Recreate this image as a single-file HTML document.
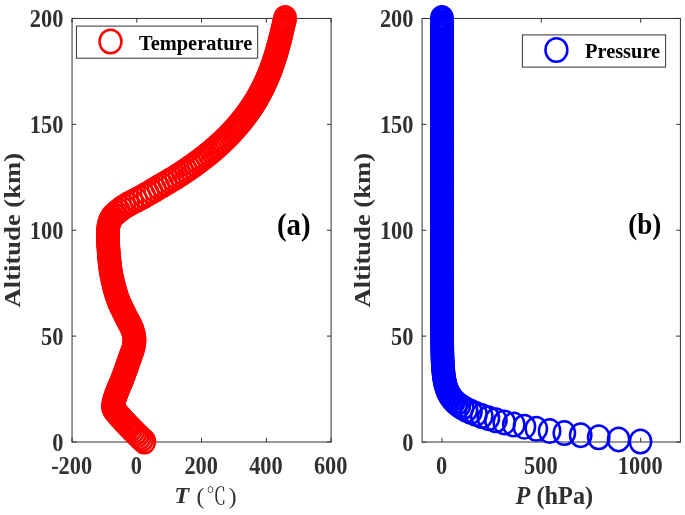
<!DOCTYPE html>
<html lang="en"><head><meta charset="utf-8"><title>Temperature and Pressure vs Altitude</title>
<style>html,body{margin:0;padding:0;background:#fff}svg{display:block}</style></head>
<body>
<svg width="685" height="515" viewBox="0 0 685 515">
<rect width="685" height="515" fill="#fff"/>
<rect x="72.05" y="18.45" width="259.05" height="423.55" fill="none" stroke="#303030" stroke-width="1"/>
<path d="M72.05 442.00h4.2M331.1 442.00h-4.2M72.05 336.11h4.2M331.1 336.11h-4.2M72.05 230.22h4.2M331.1 230.22h-4.2M72.05 124.34h4.2M331.1 124.34h-4.2M72.05 18.45h4.2M331.1 18.45h-4.2M72.05 442.0v-4.2M72.05 18.45v4.2M136.81 442.0v-4.2M136.81 18.45v4.2M201.57 442.0v-4.2M201.57 18.45v4.2M266.34 442.0v-4.2M266.34 18.45v4.2M331.10 442.0v-4.2M331.10 18.45v4.2" stroke="#303030" stroke-width="1" fill="none"/>
<rect x="422.07" y="18.45" width="258.33" height="423.55" fill="none" stroke="#303030" stroke-width="1"/>
<path d="M422.07 442.00h4.2M680.4 442.00h-4.2M422.07 336.11h4.2M680.4 336.11h-4.2M422.07 230.22h4.2M680.4 230.22h-4.2M422.07 124.34h4.2M680.4 124.34h-4.2M422.07 18.45h4.2M680.4 18.45h-4.2M441.94 442.0v-4.2M441.94 18.45v4.2M541.30 442.0v-4.2M541.30 18.45v4.2M640.66 442.0v-4.2M640.66 18.45v4.2" stroke="#303030" stroke-width="1" fill="none"/>
<g fill="none" stroke="#ff0000" stroke-width="2.5">
<ellipse cx="144.32" cy="441.50" rx="10.65" ry="11.75"/>
<ellipse cx="142.07" cy="439.38" rx="10.65" ry="11.75"/>
<ellipse cx="139.86" cy="437.26" rx="10.65" ry="11.75"/>
<ellipse cx="137.67" cy="435.15" rx="10.65" ry="11.75"/>
<ellipse cx="135.52" cy="433.03" rx="10.65" ry="11.75"/>
<ellipse cx="133.40" cy="430.91" rx="10.65" ry="11.75"/>
<ellipse cx="131.31" cy="428.79" rx="10.65" ry="11.75"/>
<ellipse cx="129.26" cy="426.68" rx="10.65" ry="11.75"/>
<ellipse cx="127.23" cy="424.56" rx="10.65" ry="11.75"/>
<ellipse cx="125.22" cy="422.44" rx="10.65" ry="11.75"/>
<ellipse cx="123.24" cy="420.32" rx="10.65" ry="11.75"/>
<ellipse cx="121.29" cy="418.20" rx="10.65" ry="11.75"/>
<ellipse cx="119.39" cy="416.09" rx="10.65" ry="11.75"/>
<ellipse cx="117.53" cy="413.97" rx="10.65" ry="11.75"/>
<ellipse cx="115.76" cy="411.85" rx="10.65" ry="11.75"/>
<ellipse cx="114.15" cy="409.73" rx="10.65" ry="11.75"/>
<ellipse cx="113.01" cy="407.62" rx="10.65" ry="11.75"/>
<ellipse cx="113.08" cy="405.50" rx="10.65" ry="11.75"/>
<ellipse cx="113.43" cy="403.38" rx="10.65" ry="11.75"/>
<ellipse cx="113.90" cy="401.26" rx="10.65" ry="11.75"/>
<ellipse cx="114.47" cy="399.14" rx="10.65" ry="11.75"/>
<ellipse cx="115.14" cy="397.03" rx="10.65" ry="11.75"/>
<ellipse cx="115.90" cy="394.91" rx="10.65" ry="11.75"/>
<ellipse cx="116.72" cy="392.79" rx="10.65" ry="11.75"/>
<ellipse cx="117.55" cy="390.67" rx="10.65" ry="11.75"/>
<ellipse cx="118.40" cy="388.56" rx="10.65" ry="11.75"/>
<ellipse cx="119.30" cy="386.44" rx="10.65" ry="11.75"/>
<ellipse cx="120.22" cy="384.32" rx="10.65" ry="11.75"/>
<ellipse cx="121.12" cy="382.20" rx="10.65" ry="11.75"/>
<ellipse cx="121.99" cy="380.09" rx="10.65" ry="11.75"/>
<ellipse cx="122.81" cy="377.97" rx="10.65" ry="11.75"/>
<ellipse cx="123.60" cy="375.85" rx="10.65" ry="11.75"/>
<ellipse cx="124.38" cy="373.73" rx="10.65" ry="11.75"/>
<ellipse cx="125.13" cy="371.61" rx="10.65" ry="11.75"/>
<ellipse cx="125.88" cy="369.50" rx="10.65" ry="11.75"/>
<ellipse cx="126.62" cy="367.38" rx="10.65" ry="11.75"/>
<ellipse cx="127.35" cy="365.26" rx="10.65" ry="11.75"/>
<ellipse cx="128.07" cy="363.14" rx="10.65" ry="11.75"/>
<ellipse cx="128.79" cy="361.03" rx="10.65" ry="11.75"/>
<ellipse cx="129.52" cy="358.91" rx="10.65" ry="11.75"/>
<ellipse cx="130.30" cy="356.79" rx="10.65" ry="11.75"/>
<ellipse cx="131.12" cy="354.67" rx="10.65" ry="11.75"/>
<ellipse cx="131.91" cy="352.55" rx="10.65" ry="11.75"/>
<ellipse cx="132.65" cy="350.44" rx="10.65" ry="11.75"/>
<ellipse cx="133.27" cy="348.32" rx="10.65" ry="11.75"/>
<ellipse cx="133.74" cy="346.20" rx="10.65" ry="11.75"/>
<ellipse cx="134.11" cy="344.08" rx="10.65" ry="11.75"/>
<ellipse cx="134.42" cy="341.97" rx="10.65" ry="11.75"/>
<ellipse cx="134.55" cy="339.85" rx="10.65" ry="11.75"/>
<ellipse cx="134.39" cy="337.73" rx="10.65" ry="11.75"/>
<ellipse cx="134.03" cy="335.61" rx="10.65" ry="11.75"/>
<ellipse cx="133.57" cy="333.49" rx="10.65" ry="11.75"/>
<ellipse cx="133.02" cy="331.38" rx="10.65" ry="11.75"/>
<ellipse cx="132.26" cy="329.26" rx="10.65" ry="11.75"/>
<ellipse cx="131.36" cy="327.14" rx="10.65" ry="11.75"/>
<ellipse cx="130.33" cy="325.02" rx="10.65" ry="11.75"/>
<ellipse cx="129.23" cy="322.91" rx="10.65" ry="11.75"/>
<ellipse cx="128.09" cy="320.79" rx="10.65" ry="11.75"/>
<ellipse cx="126.96" cy="318.67" rx="10.65" ry="11.75"/>
<ellipse cx="125.85" cy="316.55" rx="10.65" ry="11.75"/>
<ellipse cx="124.83" cy="314.44" rx="10.65" ry="11.75"/>
<ellipse cx="123.83" cy="312.32" rx="10.65" ry="11.75"/>
<ellipse cx="122.80" cy="310.20" rx="10.65" ry="11.75"/>
<ellipse cx="121.76" cy="308.08" rx="10.65" ry="11.75"/>
<ellipse cx="120.74" cy="305.96" rx="10.65" ry="11.75"/>
<ellipse cx="119.76" cy="303.85" rx="10.65" ry="11.75"/>
<ellipse cx="118.85" cy="301.73" rx="10.65" ry="11.75"/>
<ellipse cx="118.03" cy="299.61" rx="10.65" ry="11.75"/>
<ellipse cx="117.29" cy="297.49" rx="10.65" ry="11.75"/>
<ellipse cx="116.60" cy="295.38" rx="10.65" ry="11.75"/>
<ellipse cx="115.95" cy="293.26" rx="10.65" ry="11.75"/>
<ellipse cx="115.33" cy="291.14" rx="10.65" ry="11.75"/>
<ellipse cx="114.74" cy="289.02" rx="10.65" ry="11.75"/>
<ellipse cx="114.19" cy="286.90" rx="10.65" ry="11.75"/>
<ellipse cx="113.66" cy="284.79" rx="10.65" ry="11.75"/>
<ellipse cx="113.15" cy="282.67" rx="10.65" ry="11.75"/>
<ellipse cx="112.65" cy="280.55" rx="10.65" ry="11.75"/>
<ellipse cx="112.16" cy="278.43" rx="10.65" ry="11.75"/>
<ellipse cx="111.71" cy="276.32" rx="10.65" ry="11.75"/>
<ellipse cx="111.29" cy="274.20" rx="10.65" ry="11.75"/>
<ellipse cx="110.91" cy="272.08" rx="10.65" ry="11.75"/>
<ellipse cx="110.58" cy="269.96" rx="10.65" ry="11.75"/>
<ellipse cx="110.30" cy="267.84" rx="10.65" ry="11.75"/>
<ellipse cx="110.03" cy="265.73" rx="10.65" ry="11.75"/>
<ellipse cx="109.78" cy="263.61" rx="10.65" ry="11.75"/>
<ellipse cx="109.55" cy="261.49" rx="10.65" ry="11.75"/>
<ellipse cx="109.34" cy="259.37" rx="10.65" ry="11.75"/>
<ellipse cx="109.15" cy="257.26" rx="10.65" ry="11.75"/>
<ellipse cx="108.97" cy="255.14" rx="10.65" ry="11.75"/>
<ellipse cx="108.80" cy="253.02" rx="10.65" ry="11.75"/>
<ellipse cx="108.63" cy="250.90" rx="10.65" ry="11.75"/>
<ellipse cx="108.45" cy="248.78" rx="10.65" ry="11.75"/>
<ellipse cx="108.29" cy="246.67" rx="10.65" ry="11.75"/>
<ellipse cx="108.15" cy="244.55" rx="10.65" ry="11.75"/>
<ellipse cx="108.05" cy="242.43" rx="10.65" ry="11.75"/>
<ellipse cx="108.00" cy="240.31" rx="10.65" ry="11.75"/>
<ellipse cx="107.99" cy="238.20" rx="10.65" ry="11.75"/>
<ellipse cx="108.00" cy="236.08" rx="10.65" ry="11.75"/>
<ellipse cx="108.02" cy="233.96" rx="10.65" ry="11.75"/>
<ellipse cx="108.05" cy="231.84" rx="10.65" ry="11.75"/>
<ellipse cx="108.09" cy="229.72" rx="10.65" ry="11.75"/>
<ellipse cx="108.27" cy="227.61" rx="10.65" ry="11.75"/>
<ellipse cx="108.64" cy="225.49" rx="10.65" ry="11.75"/>
<ellipse cx="109.13" cy="223.37" rx="10.65" ry="11.75"/>
<ellipse cx="109.79" cy="221.25" rx="10.65" ry="11.75"/>
<ellipse cx="110.76" cy="219.14" rx="10.65" ry="11.75"/>
<ellipse cx="112.07" cy="217.02" rx="10.65" ry="11.75"/>
<ellipse cx="113.92" cy="214.90" rx="10.65" ry="11.75"/>
<ellipse cx="116.19" cy="212.78" rx="10.65" ry="11.75"/>
<ellipse cx="118.78" cy="210.67" rx="10.65" ry="11.75"/>
<ellipse cx="121.58" cy="208.55" rx="10.65" ry="11.75"/>
<ellipse cx="124.54" cy="206.43" rx="10.65" ry="11.75"/>
<ellipse cx="128.08" cy="204.31" rx="10.65" ry="11.75"/>
<ellipse cx="132.09" cy="202.19" rx="10.65" ry="11.75"/>
<ellipse cx="136.29" cy="200.08" rx="10.65" ry="11.75"/>
<ellipse cx="140.39" cy="197.96" rx="10.65" ry="11.75"/>
<ellipse cx="144.17" cy="195.84" rx="10.65" ry="11.75"/>
<ellipse cx="147.83" cy="193.72" rx="10.65" ry="11.75"/>
<ellipse cx="151.43" cy="191.61" rx="10.65" ry="11.75"/>
<ellipse cx="154.99" cy="189.49" rx="10.65" ry="11.75"/>
<ellipse cx="158.54" cy="187.37" rx="10.65" ry="11.75"/>
<ellipse cx="162.10" cy="185.25" rx="10.65" ry="11.75"/>
<ellipse cx="165.70" cy="183.13" rx="10.65" ry="11.75"/>
<ellipse cx="169.29" cy="181.02" rx="10.65" ry="11.75"/>
<ellipse cx="172.83" cy="178.90" rx="10.65" ry="11.75"/>
<ellipse cx="176.25" cy="176.78" rx="10.65" ry="11.75"/>
<ellipse cx="179.57" cy="174.66" rx="10.65" ry="11.75"/>
<ellipse cx="182.83" cy="172.55" rx="10.65" ry="11.75"/>
<ellipse cx="186.01" cy="170.43" rx="10.65" ry="11.75"/>
<ellipse cx="189.12" cy="168.31" rx="10.65" ry="11.75"/>
<ellipse cx="192.15" cy="166.19" rx="10.65" ry="11.75"/>
<ellipse cx="195.12" cy="164.07" rx="10.65" ry="11.75"/>
<ellipse cx="198.02" cy="161.96" rx="10.65" ry="11.75"/>
<ellipse cx="200.85" cy="159.84" rx="10.65" ry="11.75"/>
<ellipse cx="203.61" cy="157.72" rx="10.65" ry="11.75"/>
<ellipse cx="206.30" cy="155.60" rx="10.65" ry="11.75"/>
<ellipse cx="208.92" cy="153.49" rx="10.65" ry="11.75"/>
<ellipse cx="211.48" cy="151.37" rx="10.65" ry="11.75"/>
<ellipse cx="213.98" cy="149.25" rx="10.65" ry="11.75"/>
<ellipse cx="216.41" cy="147.13" rx="10.65" ry="11.75"/>
<ellipse cx="218.77" cy="145.01" rx="10.65" ry="11.75"/>
<ellipse cx="221.07" cy="142.90" rx="10.65" ry="11.75"/>
<ellipse cx="223.32" cy="140.78" rx="10.65" ry="11.75"/>
<ellipse cx="225.51" cy="138.66" rx="10.65" ry="11.75"/>
<ellipse cx="227.64" cy="136.54" rx="10.65" ry="11.75"/>
<ellipse cx="229.71" cy="134.43" rx="10.65" ry="11.75"/>
<ellipse cx="231.73" cy="132.31" rx="10.65" ry="11.75"/>
<ellipse cx="233.70" cy="130.19" rx="10.65" ry="11.75"/>
<ellipse cx="235.61" cy="128.07" rx="10.65" ry="11.75"/>
<ellipse cx="237.47" cy="125.96" rx="10.65" ry="11.75"/>
<ellipse cx="239.27" cy="123.84" rx="10.65" ry="11.75"/>
<ellipse cx="241.01" cy="121.72" rx="10.65" ry="11.75"/>
<ellipse cx="242.71" cy="119.60" rx="10.65" ry="11.75"/>
<ellipse cx="244.37" cy="117.48" rx="10.65" ry="11.75"/>
<ellipse cx="245.97" cy="115.37" rx="10.65" ry="11.75"/>
<ellipse cx="247.52" cy="113.25" rx="10.65" ry="11.75"/>
<ellipse cx="249.03" cy="111.13" rx="10.65" ry="11.75"/>
<ellipse cx="250.50" cy="109.01" rx="10.65" ry="11.75"/>
<ellipse cx="251.93" cy="106.90" rx="10.65" ry="11.75"/>
<ellipse cx="253.31" cy="104.78" rx="10.65" ry="11.75"/>
<ellipse cx="254.65" cy="102.66" rx="10.65" ry="11.75"/>
<ellipse cx="255.94" cy="100.54" rx="10.65" ry="11.75"/>
<ellipse cx="257.20" cy="98.42" rx="10.65" ry="11.75"/>
<ellipse cx="258.42" cy="96.31" rx="10.65" ry="11.75"/>
<ellipse cx="259.60" cy="94.19" rx="10.65" ry="11.75"/>
<ellipse cx="260.74" cy="92.07" rx="10.65" ry="11.75"/>
<ellipse cx="261.84" cy="89.95" rx="10.65" ry="11.75"/>
<ellipse cx="262.91" cy="87.84" rx="10.65" ry="11.75"/>
<ellipse cx="263.94" cy="85.72" rx="10.65" ry="11.75"/>
<ellipse cx="264.95" cy="83.60" rx="10.65" ry="11.75"/>
<ellipse cx="265.92" cy="81.48" rx="10.65" ry="11.75"/>
<ellipse cx="266.85" cy="79.36" rx="10.65" ry="11.75"/>
<ellipse cx="267.76" cy="77.25" rx="10.65" ry="11.75"/>
<ellipse cx="268.64" cy="75.13" rx="10.65" ry="11.75"/>
<ellipse cx="269.50" cy="73.01" rx="10.65" ry="11.75"/>
<ellipse cx="270.32" cy="70.89" rx="10.65" ry="11.75"/>
<ellipse cx="271.12" cy="68.78" rx="10.65" ry="11.75"/>
<ellipse cx="271.89" cy="66.66" rx="10.65" ry="11.75"/>
<ellipse cx="272.64" cy="64.54" rx="10.65" ry="11.75"/>
<ellipse cx="273.37" cy="62.42" rx="10.65" ry="11.75"/>
<ellipse cx="274.08" cy="60.31" rx="10.65" ry="11.75"/>
<ellipse cx="274.76" cy="58.19" rx="10.65" ry="11.75"/>
<ellipse cx="275.43" cy="56.07" rx="10.65" ry="11.75"/>
<ellipse cx="276.07" cy="53.95" rx="10.65" ry="11.75"/>
<ellipse cx="276.70" cy="51.83" rx="10.65" ry="11.75"/>
<ellipse cx="277.31" cy="49.72" rx="10.65" ry="11.75"/>
<ellipse cx="277.91" cy="47.60" rx="10.65" ry="11.75"/>
<ellipse cx="278.50" cy="45.48" rx="10.65" ry="11.75"/>
<ellipse cx="279.06" cy="43.36" rx="10.65" ry="11.75"/>
<ellipse cx="279.62" cy="41.25" rx="10.65" ry="11.75"/>
<ellipse cx="280.16" cy="39.13" rx="10.65" ry="11.75"/>
<ellipse cx="280.70" cy="37.01" rx="10.65" ry="11.75"/>
<ellipse cx="281.21" cy="34.89" rx="10.65" ry="11.75"/>
<ellipse cx="281.72" cy="32.77" rx="10.65" ry="11.75"/>
<ellipse cx="282.22" cy="30.66" rx="10.65" ry="11.75"/>
<ellipse cx="282.72" cy="28.54" rx="10.65" ry="11.75"/>
<ellipse cx="283.22" cy="26.42" rx="10.65" ry="11.75"/>
<ellipse cx="283.71" cy="24.30" rx="10.65" ry="11.75"/>
<ellipse cx="284.19" cy="22.19" rx="10.65" ry="11.75"/>
<ellipse cx="284.68" cy="20.07" rx="10.65" ry="11.75"/>
<ellipse cx="285.15" cy="17.95" rx="10.65" ry="11.75"/>
</g>
<g fill="none" stroke="#0000ff" stroke-width="2.5">
<ellipse cx="640.46" cy="441.50" rx="10.65" ry="11.75"/>
<ellipse cx="618.60" cy="439.38" rx="10.65" ry="11.75"/>
<ellipse cx="598.72" cy="437.26" rx="10.65" ry="11.75"/>
<ellipse cx="580.67" cy="435.15" rx="10.65" ry="11.75"/>
<ellipse cx="564.34" cy="433.03" rx="10.65" ry="11.75"/>
<ellipse cx="549.60" cy="430.91" rx="10.65" ry="11.75"/>
<ellipse cx="536.33" cy="428.79" rx="10.65" ry="11.75"/>
<ellipse cx="524.43" cy="426.68" rx="10.65" ry="11.75"/>
<ellipse cx="513.79" cy="424.56" rx="10.65" ry="11.75"/>
<ellipse cx="504.29" cy="422.44" rx="10.65" ry="11.75"/>
<ellipse cx="495.86" cy="420.32" rx="10.65" ry="11.75"/>
<ellipse cx="488.38" cy="418.20" rx="10.65" ry="11.75"/>
<ellipse cx="481.79" cy="416.09" rx="10.65" ry="11.75"/>
<ellipse cx="475.99" cy="413.97" rx="10.65" ry="11.75"/>
<ellipse cx="470.92" cy="411.85" rx="10.65" ry="11.75"/>
<ellipse cx="466.50" cy="409.73" rx="10.65" ry="11.75"/>
<ellipse cx="462.68" cy="407.62" rx="10.65" ry="11.75"/>
<ellipse cx="459.43" cy="405.50" rx="10.65" ry="11.75"/>
<ellipse cx="456.70" cy="403.38" rx="10.65" ry="11.75"/>
<ellipse cx="454.42" cy="401.26" rx="10.65" ry="11.75"/>
<ellipse cx="452.50" cy="399.14" rx="10.65" ry="11.75"/>
<ellipse cx="450.89" cy="397.03" rx="10.65" ry="11.75"/>
<ellipse cx="449.54" cy="394.91" rx="10.65" ry="11.75"/>
<ellipse cx="448.40" cy="392.79" rx="10.65" ry="11.75"/>
<ellipse cx="447.45" cy="390.67" rx="10.65" ry="11.75"/>
<ellipse cx="446.65" cy="388.56" rx="10.65" ry="11.75"/>
<ellipse cx="445.97" cy="386.44" rx="10.65" ry="11.75"/>
<ellipse cx="445.39" cy="384.32" rx="10.65" ry="11.75"/>
<ellipse cx="444.91" cy="382.20" rx="10.65" ry="11.75"/>
<ellipse cx="444.50" cy="380.09" rx="10.65" ry="11.75"/>
<ellipse cx="444.14" cy="377.97" rx="10.65" ry="11.75"/>
<ellipse cx="443.84" cy="375.85" rx="10.65" ry="11.75"/>
<ellipse cx="443.59" cy="373.73" rx="10.65" ry="11.75"/>
<ellipse cx="443.37" cy="371.61" rx="10.65" ry="11.75"/>
<ellipse cx="443.18" cy="369.50" rx="10.65" ry="11.75"/>
<ellipse cx="443.02" cy="367.38" rx="10.65" ry="11.75"/>
<ellipse cx="442.88" cy="365.26" rx="10.65" ry="11.75"/>
<ellipse cx="442.76" cy="363.14" rx="10.65" ry="11.75"/>
<ellipse cx="442.65" cy="361.03" rx="10.65" ry="11.75"/>
<ellipse cx="442.56" cy="358.91" rx="10.65" ry="11.75"/>
<ellipse cx="442.48" cy="356.79" rx="10.65" ry="11.75"/>
<ellipse cx="442.42" cy="354.67" rx="10.65" ry="11.75"/>
<ellipse cx="442.36" cy="352.55" rx="10.65" ry="11.75"/>
<ellipse cx="442.31" cy="350.44" rx="10.65" ry="11.75"/>
<ellipse cx="442.26" cy="348.32" rx="10.65" ry="11.75"/>
<ellipse cx="442.22" cy="346.20" rx="10.65" ry="11.75"/>
<ellipse cx="442.19" cy="344.08" rx="10.65" ry="11.75"/>
<ellipse cx="442.16" cy="341.97" rx="10.65" ry="11.75"/>
<ellipse cx="442.14" cy="339.85" rx="10.65" ry="11.75"/>
<ellipse cx="442.11" cy="337.73" rx="10.65" ry="11.75"/>
<ellipse cx="442.09" cy="335.61" rx="10.65" ry="11.75"/>
<ellipse cx="442.07" cy="333.49" rx="10.65" ry="11.75"/>
<ellipse cx="442.06" cy="331.38" rx="10.65" ry="11.75"/>
<ellipse cx="442.04" cy="329.26" rx="10.65" ry="11.75"/>
<ellipse cx="442.03" cy="327.14" rx="10.65" ry="11.75"/>
<ellipse cx="442.02" cy="325.02" rx="10.65" ry="11.75"/>
<ellipse cx="442.01" cy="322.91" rx="10.65" ry="11.75"/>
<ellipse cx="442.00" cy="320.79" rx="10.65" ry="11.75"/>
<ellipse cx="441.99" cy="318.67" rx="10.65" ry="11.75"/>
<ellipse cx="441.99" cy="316.55" rx="10.65" ry="11.75"/>
<ellipse cx="441.98" cy="314.44" rx="10.65" ry="11.75"/>
<ellipse cx="441.98" cy="312.32" rx="10.65" ry="11.75"/>
<ellipse cx="441.97" cy="310.20" rx="10.65" ry="11.75"/>
<ellipse cx="441.97" cy="308.08" rx="10.65" ry="11.75"/>
<ellipse cx="441.96" cy="305.96" rx="10.65" ry="11.75"/>
<ellipse cx="441.96" cy="303.85" rx="10.65" ry="11.75"/>
<ellipse cx="441.96" cy="301.73" rx="10.65" ry="11.75"/>
<ellipse cx="441.96" cy="299.61" rx="10.65" ry="11.75"/>
<ellipse cx="441.95" cy="297.49" rx="10.65" ry="11.75"/>
<ellipse cx="441.95" cy="295.38" rx="10.65" ry="11.75"/>
<ellipse cx="441.95" cy="293.26" rx="10.65" ry="11.75"/>
<ellipse cx="441.95" cy="291.14" rx="10.65" ry="11.75"/>
<ellipse cx="441.95" cy="289.02" rx="10.65" ry="11.75"/>
<ellipse cx="441.95" cy="286.90" rx="10.65" ry="11.75"/>
<ellipse cx="441.95" cy="284.79" rx="10.65" ry="11.75"/>
<ellipse cx="441.95" cy="282.67" rx="10.65" ry="11.75"/>
<ellipse cx="441.94" cy="280.55" rx="10.65" ry="11.75"/>
<ellipse cx="441.94" cy="278.43" rx="10.65" ry="11.75"/>
<ellipse cx="441.94" cy="276.32" rx="10.65" ry="11.75"/>
<ellipse cx="441.94" cy="274.20" rx="10.65" ry="11.75"/>
<ellipse cx="441.94" cy="272.08" rx="10.65" ry="11.75"/>
<ellipse cx="441.94" cy="269.96" rx="10.65" ry="11.75"/>
<ellipse cx="441.94" cy="267.84" rx="10.65" ry="11.75"/>
<ellipse cx="441.94" cy="265.73" rx="10.65" ry="11.75"/>
<ellipse cx="441.94" cy="263.61" rx="10.65" ry="11.75"/>
<ellipse cx="441.94" cy="261.49" rx="10.65" ry="11.75"/>
<ellipse cx="441.94" cy="259.37" rx="10.65" ry="11.75"/>
<ellipse cx="441.94" cy="257.26" rx="10.65" ry="11.75"/>
<ellipse cx="441.94" cy="255.14" rx="10.65" ry="11.75"/>
<ellipse cx="441.94" cy="253.02" rx="10.65" ry="11.75"/>
<ellipse cx="441.94" cy="250.90" rx="10.65" ry="11.75"/>
<ellipse cx="441.94" cy="248.78" rx="10.65" ry="11.75"/>
<ellipse cx="441.94" cy="246.67" rx="10.65" ry="11.75"/>
<ellipse cx="441.94" cy="244.55" rx="10.65" ry="11.75"/>
<ellipse cx="441.94" cy="242.43" rx="10.65" ry="11.75"/>
<ellipse cx="441.94" cy="240.31" rx="10.65" ry="11.75"/>
<ellipse cx="441.94" cy="238.20" rx="10.65" ry="11.75"/>
<ellipse cx="441.94" cy="236.08" rx="10.65" ry="11.75"/>
<ellipse cx="441.94" cy="233.96" rx="10.65" ry="11.75"/>
<ellipse cx="441.94" cy="231.84" rx="10.65" ry="11.75"/>
<ellipse cx="441.94" cy="229.72" rx="10.65" ry="11.75"/>
<ellipse cx="441.94" cy="227.61" rx="10.65" ry="11.75"/>
<ellipse cx="441.94" cy="225.49" rx="10.65" ry="11.75"/>
<ellipse cx="441.94" cy="223.37" rx="10.65" ry="11.75"/>
<ellipse cx="441.94" cy="221.25" rx="10.65" ry="11.75"/>
<ellipse cx="441.94" cy="219.14" rx="10.65" ry="11.75"/>
<ellipse cx="441.94" cy="217.02" rx="10.65" ry="11.75"/>
<ellipse cx="441.94" cy="214.90" rx="10.65" ry="11.75"/>
<ellipse cx="441.94" cy="212.78" rx="10.65" ry="11.75"/>
<ellipse cx="441.94" cy="210.67" rx="10.65" ry="11.75"/>
<ellipse cx="441.94" cy="208.55" rx="10.65" ry="11.75"/>
<ellipse cx="441.94" cy="206.43" rx="10.65" ry="11.75"/>
<ellipse cx="441.94" cy="204.31" rx="10.65" ry="11.75"/>
<ellipse cx="441.94" cy="202.19" rx="10.65" ry="11.75"/>
<ellipse cx="441.94" cy="200.08" rx="10.65" ry="11.75"/>
<ellipse cx="441.94" cy="197.96" rx="10.65" ry="11.75"/>
<ellipse cx="441.94" cy="195.84" rx="10.65" ry="11.75"/>
<ellipse cx="441.94" cy="193.72" rx="10.65" ry="11.75"/>
<ellipse cx="441.94" cy="191.61" rx="10.65" ry="11.75"/>
<ellipse cx="441.94" cy="189.49" rx="10.65" ry="11.75"/>
<ellipse cx="441.94" cy="187.37" rx="10.65" ry="11.75"/>
<ellipse cx="441.94" cy="185.25" rx="10.65" ry="11.75"/>
<ellipse cx="441.94" cy="183.13" rx="10.65" ry="11.75"/>
<ellipse cx="441.94" cy="181.02" rx="10.65" ry="11.75"/>
<ellipse cx="441.94" cy="178.90" rx="10.65" ry="11.75"/>
<ellipse cx="441.94" cy="176.78" rx="10.65" ry="11.75"/>
<ellipse cx="441.94" cy="174.66" rx="10.65" ry="11.75"/>
<ellipse cx="441.94" cy="172.55" rx="10.65" ry="11.75"/>
<ellipse cx="441.94" cy="170.43" rx="10.65" ry="11.75"/>
<ellipse cx="441.94" cy="168.31" rx="10.65" ry="11.75"/>
<ellipse cx="441.94" cy="166.19" rx="10.65" ry="11.75"/>
<ellipse cx="441.94" cy="164.07" rx="10.65" ry="11.75"/>
<ellipse cx="441.94" cy="161.96" rx="10.65" ry="11.75"/>
<ellipse cx="441.94" cy="159.84" rx="10.65" ry="11.75"/>
<ellipse cx="441.94" cy="157.72" rx="10.65" ry="11.75"/>
<ellipse cx="441.94" cy="155.60" rx="10.65" ry="11.75"/>
<ellipse cx="441.94" cy="153.49" rx="10.65" ry="11.75"/>
<ellipse cx="441.94" cy="151.37" rx="10.65" ry="11.75"/>
<ellipse cx="441.94" cy="149.25" rx="10.65" ry="11.75"/>
<ellipse cx="441.94" cy="147.13" rx="10.65" ry="11.75"/>
<ellipse cx="441.94" cy="145.01" rx="10.65" ry="11.75"/>
<ellipse cx="441.94" cy="142.90" rx="10.65" ry="11.75"/>
<ellipse cx="441.94" cy="140.78" rx="10.65" ry="11.75"/>
<ellipse cx="441.94" cy="138.66" rx="10.65" ry="11.75"/>
<ellipse cx="441.94" cy="136.54" rx="10.65" ry="11.75"/>
<ellipse cx="441.94" cy="134.43" rx="10.65" ry="11.75"/>
<ellipse cx="441.94" cy="132.31" rx="10.65" ry="11.75"/>
<ellipse cx="441.94" cy="130.19" rx="10.65" ry="11.75"/>
<ellipse cx="441.94" cy="128.07" rx="10.65" ry="11.75"/>
<ellipse cx="441.94" cy="125.96" rx="10.65" ry="11.75"/>
<ellipse cx="441.94" cy="123.84" rx="10.65" ry="11.75"/>
<ellipse cx="441.94" cy="121.72" rx="10.65" ry="11.75"/>
<ellipse cx="441.94" cy="119.60" rx="10.65" ry="11.75"/>
<ellipse cx="441.94" cy="117.48" rx="10.65" ry="11.75"/>
<ellipse cx="441.94" cy="115.37" rx="10.65" ry="11.75"/>
<ellipse cx="441.94" cy="113.25" rx="10.65" ry="11.75"/>
<ellipse cx="441.94" cy="111.13" rx="10.65" ry="11.75"/>
<ellipse cx="441.94" cy="109.01" rx="10.65" ry="11.75"/>
<ellipse cx="441.94" cy="106.90" rx="10.65" ry="11.75"/>
<ellipse cx="441.94" cy="104.78" rx="10.65" ry="11.75"/>
<ellipse cx="441.94" cy="102.66" rx="10.65" ry="11.75"/>
<ellipse cx="441.94" cy="100.54" rx="10.65" ry="11.75"/>
<ellipse cx="441.94" cy="98.42" rx="10.65" ry="11.75"/>
<ellipse cx="441.94" cy="96.31" rx="10.65" ry="11.75"/>
<ellipse cx="441.94" cy="94.19" rx="10.65" ry="11.75"/>
<ellipse cx="441.94" cy="92.07" rx="10.65" ry="11.75"/>
<ellipse cx="441.94" cy="89.95" rx="10.65" ry="11.75"/>
<ellipse cx="441.94" cy="87.84" rx="10.65" ry="11.75"/>
<ellipse cx="441.94" cy="85.72" rx="10.65" ry="11.75"/>
<ellipse cx="441.94" cy="83.60" rx="10.65" ry="11.75"/>
<ellipse cx="441.94" cy="81.48" rx="10.65" ry="11.75"/>
<ellipse cx="441.94" cy="79.36" rx="10.65" ry="11.75"/>
<ellipse cx="441.94" cy="77.25" rx="10.65" ry="11.75"/>
<ellipse cx="441.94" cy="75.13" rx="10.65" ry="11.75"/>
<ellipse cx="441.94" cy="73.01" rx="10.65" ry="11.75"/>
<ellipse cx="441.94" cy="70.89" rx="10.65" ry="11.75"/>
<ellipse cx="441.94" cy="68.78" rx="10.65" ry="11.75"/>
<ellipse cx="441.94" cy="66.66" rx="10.65" ry="11.75"/>
<ellipse cx="441.94" cy="64.54" rx="10.65" ry="11.75"/>
<ellipse cx="441.94" cy="62.42" rx="10.65" ry="11.75"/>
<ellipse cx="441.94" cy="60.31" rx="10.65" ry="11.75"/>
<ellipse cx="441.94" cy="58.19" rx="10.65" ry="11.75"/>
<ellipse cx="441.94" cy="56.07" rx="10.65" ry="11.75"/>
<ellipse cx="441.94" cy="53.95" rx="10.65" ry="11.75"/>
<ellipse cx="441.94" cy="51.83" rx="10.65" ry="11.75"/>
<ellipse cx="441.94" cy="49.72" rx="10.65" ry="11.75"/>
<ellipse cx="441.94" cy="47.60" rx="10.65" ry="11.75"/>
<ellipse cx="441.94" cy="45.48" rx="10.65" ry="11.75"/>
<ellipse cx="441.94" cy="43.36" rx="10.65" ry="11.75"/>
<ellipse cx="441.94" cy="41.25" rx="10.65" ry="11.75"/>
<ellipse cx="441.94" cy="39.13" rx="10.65" ry="11.75"/>
<ellipse cx="441.94" cy="37.01" rx="10.65" ry="11.75"/>
<ellipse cx="441.94" cy="34.89" rx="10.65" ry="11.75"/>
<ellipse cx="441.94" cy="32.77" rx="10.65" ry="11.75"/>
<ellipse cx="441.94" cy="30.66" rx="10.65" ry="11.75"/>
<ellipse cx="441.94" cy="28.54" rx="10.65" ry="11.75"/>
<ellipse cx="441.94" cy="26.42" rx="10.65" ry="11.75"/>
<ellipse cx="441.94" cy="24.30" rx="10.65" ry="11.75"/>
<ellipse cx="441.94" cy="22.19" rx="10.65" ry="11.75"/>
<ellipse cx="441.94" cy="20.07" rx="10.65" ry="11.75"/>
<ellipse cx="441.94" cy="17.95" rx="10.65" ry="11.75"/>
</g>
<text transform="translate(63.45 451.00) scale(1 1.1)" font-family='"Liberation Serif", serif' font-size="22.4" font-weight="bold" font-style="normal" text-anchor="end" fill="#303030">0</text>
<text transform="translate(63.45 345.11) scale(1 1.1)" font-family='"Liberation Serif", serif' font-size="22.4" font-weight="bold" font-style="normal" text-anchor="end" fill="#303030">50</text>
<text transform="translate(63.45 239.22) scale(1 1.1)" font-family='"Liberation Serif", serif' font-size="22.4" font-weight="bold" font-style="normal" text-anchor="end" fill="#303030">100</text>
<text transform="translate(63.45 133.34) scale(1 1.1)" font-family='"Liberation Serif", serif' font-size="22.4" font-weight="bold" font-style="normal" text-anchor="end" fill="#303030">150</text>
<text transform="translate(63.45 27.45) scale(1 1.1)" font-family='"Liberation Serif", serif' font-size="22.4" font-weight="bold" font-style="normal" text-anchor="end" fill="#303030">200</text>
<text transform="translate(413.47 451.00) scale(1 1.1)" font-family='"Liberation Serif", serif' font-size="22.4" font-weight="bold" font-style="normal" text-anchor="end" fill="#303030">0</text>
<text transform="translate(413.47 345.11) scale(1 1.1)" font-family='"Liberation Serif", serif' font-size="22.4" font-weight="bold" font-style="normal" text-anchor="end" fill="#303030">50</text>
<text transform="translate(413.47 239.22) scale(1 1.1)" font-family='"Liberation Serif", serif' font-size="22.4" font-weight="bold" font-style="normal" text-anchor="end" fill="#303030">100</text>
<text transform="translate(413.47 133.34) scale(1 1.1)" font-family='"Liberation Serif", serif' font-size="22.4" font-weight="bold" font-style="normal" text-anchor="end" fill="#303030">150</text>
<text transform="translate(413.47 27.45) scale(1 1.1)" font-family='"Liberation Serif", serif' font-size="22.4" font-weight="bold" font-style="normal" text-anchor="end" fill="#303030">200</text>
<text transform="translate(71.65 473.80) scale(1 1.1)" font-family='"Liberation Serif", serif' font-size="22.4" font-weight="bold" font-style="normal" text-anchor="middle" fill="#303030">-200</text>
<text transform="translate(136.41 473.80) scale(1 1.1)" font-family='"Liberation Serif", serif' font-size="22.4" font-weight="bold" font-style="normal" text-anchor="middle" fill="#303030">0</text>
<text transform="translate(201.17 473.80) scale(1 1.1)" font-family='"Liberation Serif", serif' font-size="22.4" font-weight="bold" font-style="normal" text-anchor="middle" fill="#303030">200</text>
<text transform="translate(265.94 473.80) scale(1 1.1)" font-family='"Liberation Serif", serif' font-size="22.4" font-weight="bold" font-style="normal" text-anchor="middle" fill="#303030">400</text>
<text transform="translate(330.70 473.80) scale(1 1.1)" font-family='"Liberation Serif", serif' font-size="22.4" font-weight="bold" font-style="normal" text-anchor="middle" fill="#303030">600</text>
<text transform="translate(441.54 473.80) scale(1 1.1)" font-family='"Liberation Serif", serif' font-size="22.4" font-weight="bold" font-style="normal" text-anchor="middle" fill="#303030">0</text>
<text transform="translate(540.90 473.80) scale(1 1.1)" font-family='"Liberation Serif", serif' font-size="22.4" font-weight="bold" font-style="normal" text-anchor="middle" fill="#303030">500</text>
<text transform="translate(640.26 473.80) scale(1 1.1)" font-family='"Liberation Serif", serif' font-size="22.4" font-weight="bold" font-style="normal" text-anchor="middle" fill="#303030">1000</text>
<text transform="translate(20.00 230.20) rotate(-90) scale(1.177 1)" font-family='"Liberation Serif", serif' font-size="22.6" font-weight="bold" font-style="normal" text-anchor="middle" fill="#303030">Altitude (km)</text>
<text transform="translate(370.00 230.20) rotate(-90) scale(1.177 1)" font-family='"Liberation Serif", serif' font-size="22.6" font-weight="bold" font-style="normal" text-anchor="middle" fill="#303030">Altitude (km)</text>
<text transform="translate(174.30 503.30) scale(1 0.96)" font-family='"Liberation Serif", serif' font-size="24.3" font-weight="bold" font-style="italic" text-anchor="start" fill="#303030">T</text>
<text transform="translate(196.50 503.50) scale(1 1.0)" font-family='"Liberation Serif", serif' font-size="23.5" font-weight="normal" font-style="normal" text-anchor="start" fill="#303030">(</text>
<text transform="translate(206.30 503.60) scale(1 1.144)" font-family='"Liberation Serif", "Noto Serif CJK SC", serif' font-size="20.0" font-weight="normal" font-style="normal" text-anchor="start" fill="#303030">℃</text>
<text transform="translate(228.80 503.50) scale(1 1.0)" font-family='"Liberation Serif", serif' font-size="23.5" font-weight="normal" font-style="normal" text-anchor="start" fill="#303030">)</text>
<text transform="translate(515.6 504.2) scale(1 1.055)" font-family='"Liberation Serif", serif' font-size="24.3" font-weight="bold" fill="#303030"><tspan font-style="italic">P</tspan> (hPa)</text>
<text transform="translate(293.80 234.90) scale(1 1.07)" font-family='"Liberation Serif", serif' font-size="28.9" font-weight="bold" font-style="normal" text-anchor="middle" fill="#000">(a)</text>
<text transform="translate(644.70 233.80) scale(1 1.06)" font-family='"Liberation Serif", serif' font-size="27.0" font-weight="bold" font-style="normal" text-anchor="middle" fill="#000">(b)</text>
<rect x="76.4" y="26.1" width="181.30" height="32.10" fill="#fff" stroke="#303030" stroke-width="1"/>
<ellipse cx="110.5" cy="41.5" rx="10.950000000000001" ry="11.75" fill="none" stroke="#ff0000" stroke-width="2.5"/>
<text transform="translate(139.00 49.50) scale(1 1.07)" font-family='"Liberation Serif", serif' font-size="20.4" font-weight="bold" font-style="normal" text-anchor="start" fill="#000">Temperature</text>
<rect x="522.4" y="34.9" width="143.20" height="32.20" fill="#fff" stroke="#303030" stroke-width="1"/>
<ellipse cx="556.4" cy="50.0" rx="10.950000000000001" ry="11.75" fill="none" stroke="#0000ff" stroke-width="2.5"/>
<text transform="translate(585.00 58.40) scale(1 1.07)" font-family='"Liberation Serif", serif' font-size="20.4" font-weight="bold" font-style="normal" text-anchor="start" fill="#000">Pressure</text>
</svg>
</body></html>
